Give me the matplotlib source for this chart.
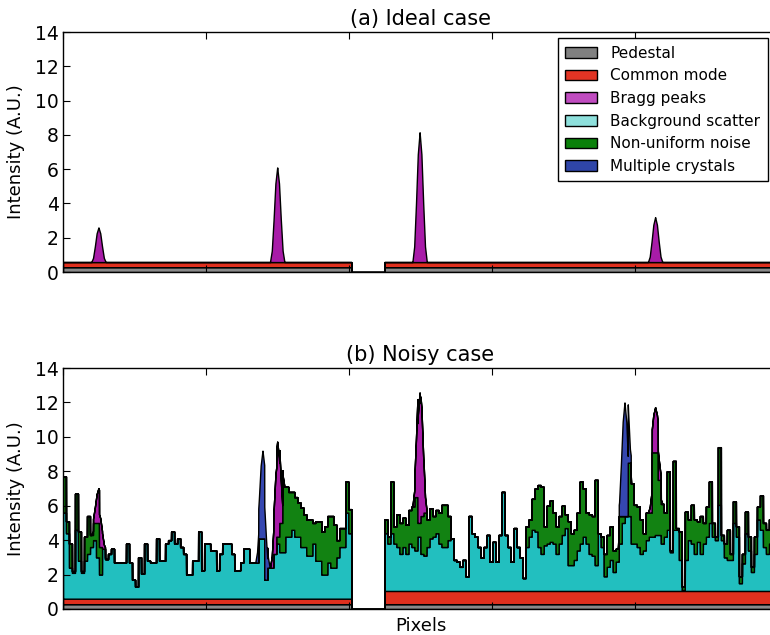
import numpy as np
import matplotlib
matplotlib.use("Agg")
import matplotlib.pyplot as plt
from matplotlib.patches import Patch

# ---------------- data ----------------
labels = ["Pedestal", "Common mode", "Bragg peaks", "Background scatter",
          "Non-uniform noise", "Multiple crystals"]
fill_colors = ["#8a8a8a", "#e0301e", "#a81ca8", "#22bfbf", "#128212", "#3547b0"]
legend_colors = ["#808080", "#e23424", "#c04cc0", "#8ee0dc", "#0a800a", "#2f45a8"]

titles = ["(a) Ideal case", "(b) Noisy case"]
y_label = "Intensity (A.U.)"
x_label = "Pixels"
y_ticks = [0, 2, 4, 6, 8, 10, 12, 14]

# detector geometry (pixel units): two panels separated by a gap
n_units = 238
left_start = 0
right_start = 107

# pedestal and common mode levels [left panel, right panel]
pedestal = [0.28, 0.28]
common_mode_ideal = [0.30, 0.30]
common_mode_noisy = [0.32, 0.77]

# Bragg peaks: centre (pixel), height
bragg_centers = [11.8, 71.3, 118.7, 197.1]
bragg_heights = [2.02, 5.52, 7.57, 2.62]
# Multiple-crystal peaks (noisy case only)
multi_centers = [66.4, 186.9]
multi_heights = [5.1, 6.6]
# peak line shape (offset in pixels, relative height)
peak_offsets = [-2.4, -1.8, -1.2, -0.6, 0.0, 0.6, 1.2, 1.8, 2.4]
peak_shape = [0.0, 0.12, 0.45, 0.83, 1.0, 0.83, 0.45, 0.12, 0.0]

# noisy case: level of top of background scatter, per pixel (left panel)
scatter_top_left = [
    5.6, 4.4, 2.4, 2.1, 4.6, 2.8, 2.1, 2.8, 3.2, 3.6,
    4.0, 3.0, 2.0, 3.5, 2.9, 3.2, 3.5, 2.7, 2.7, 2.7,
    2.7, 3.8, 2.7, 1.7, 1.3, 3.0, 2.05, 3.8, 2.8, 2.7,
    2.7, 4.1, 2.8, 2.8, 3.8, 4.0, 4.5, 3.8, 4.1, 3.6,
    3.2, 2.0, 2.0, 2.8, 2.8, 4.5, 2.25, 3.8, 3.8, 3.4,
    3.4, 2.25, 3.2, 3.8, 3.8, 3.8, 3.2, 2.25, 2.25, 2.7,
    3.5, 3.5, 2.7, 2.7, 2.7, 4.1, 4.1, 1.7, 2.4, 2.4,
    3.2, 3.8, 3.3, 3.3, 4.2, 4.2, 4.6, 4.2, 4.2, 3.6,
    3.6, 3.1, 3.1, 3.8, 2.8, 2.8, 2.0, 2.0, 2.7, 2.4,
    2.4, 3.0, 3.6, 3.6, 5.6, 4.4]
# level of top of non-uniform noise (left panel), first and last stretch;
# the middle stretch has no noise
noise_top_left_a = [7.7, 5.1, 3.8, 2.2, 6.7, 4.5, 2.2, 4.2, 5.4, 4.3,
                    5.0, 5.0, 3.6]
noise_top_left_b = [4.2, 5.0, 7.1, 7.1, 6.8, 6.8, 6.5, 6.2, 5.9, 5.5,
                    5.2, 5.2, 5.0, 5.1, 5.1, 4.5, 4.8, 5.4, 5.4, 4.9,
                    4.0, 4.7, 4.7, 7.4, 5.8]

scatter_top_right = [
    4.4, 3.8, 4.4, 3.8, 3.6, 3.2, 3.6, 3.2, 3.8, 3.6,
    3.4, 4.2, 3.2, 3.1, 3.6, 4.1, 4.2, 4.4, 3.8, 3.6,
    3.6, 4.0, 4.1, 2.85, 2.75, 2.45, 2.85, 1.9, 5.4, 4.4,
    4.2, 3.6, 3.0, 3.6, 4.3, 2.75, 3.9, 2.75, 4.3, 6.8,
    4.3, 3.6, 2.75, 4.7, 3.6, 3.0, 1.8, 3.6, 4.2, 4.6,
    4.5, 3.6, 3.2, 3.7, 3.8, 3.9, 3.8, 3.2, 3.8, 4.3,
    4.7, 2.55, 2.55, 2.85, 3.4, 3.8, 4.2, 3.8, 3.2, 3.1,
    2.55, 4.4, 3.6, 1.9, 2.45, 2.85, 2.15, 2.75, 3.8, 5.0,
    5.4, 5.4, 3.8, 3.8, 3.6, 3.2, 3.4, 4.0, 4.2, 4.2,
    4.3, 4.3, 3.8, 4.2, 4.6, 3.3, 4.6, 4.6, 2.85, 1.1,
    2.85, 4.0, 3.8, 3.2, 3.9, 3.2, 3.8, 4.2, 5.0, 4.2,
    4.0, 6.05, 4.0, 3.0, 2.85, 2.85, 5.0, 4.2, 1.5, 2.65,
    4.4, 3.4, 2.15, 3.2, 5.2, 4.6, 3.6, 3.2, 3.8, 3.4,
    3.9]
noise_top_right = [
    5.2, 4.2, 7.4, 4.8, 5.5, 5.0, 5.3, 4.9, 5.75, 5.95,
    6.5, 5.0, 5.4, 5.6, 5.2, 5.85, 5.4, 5.75, 5.6, 6.05,
    6.05, 5.4, 4.1, 2.85, 2.75, 2.45, 2.85, 1.9, 5.4, 4.4,
    4.2, 3.6, 3.0, 3.6, 4.3, 2.75, 3.9, 2.75, 4.3, 6.8,
    4.3, 3.6, 2.75, 4.7, 3.6, 3.0, 1.8, 4.8, 5.2, 6.4,
    7.0, 7.2, 7.1, 4.8, 6.0, 6.3, 5.6, 4.8, 5.4, 6.0,
    5.5, 5.1, 4.4, 4.6, 5.6, 7.4, 7.0, 5.6, 5.5, 5.4,
    7.5, 4.4, 4.2, 3.2, 4.3, 4.8, 3.4, 3.5, 5.4, 5.4,
    5.4, 8.5, 7.3, 6.05, 5.95, 5.2, 4.4, 5.6, 5.6, 9.1,
    9.1, 7.5, 6.1, 5.6, 8.0, 3.4, 8.6, 4.7, 4.5, 1.3,
    5.65, 5.2, 6.05, 5.2, 5.1, 5.4, 5.0, 5.95, 7.4, 5.0,
    4.2, 9.4, 4.3, 3.8, 4.6, 3.2, 6.25, 4.8, 1.9, 3.2,
    5.65, 4.2, 2.45, 4.2, 5.95, 6.6, 5.0, 4.6, 5.2, 4.8,
    5.5]

left_len = len(scatter_top_left)
right_len = len(scatter_top_right)

# ---------------- build drawing arrays ----------------
x = np.linspace(0, n_units, n_units * 40 + 1)
idx = np.clip(np.floor(x).astype(int), 0, n_units - 1)


def per_pixel(left_vals, right_vals):
    arr = np.zeros(n_units)
    arr[left_start:left_start + left_len] = left_vals
    arr[right_start:right_start + right_len] = right_vals
    return arr[idx]


on_detector = per_pixel(np.ones(left_len), np.ones(right_len))


def peaks(centers, heights):
    total = np.zeros_like(x)
    for c, h in zip(centers, heights):
        total += h * np.interp(x - c, peak_offsets, peak_shape)
    return total * on_detector


noise_top_left = (noise_top_left_a
                  + scatter_top_left[len(noise_top_left_a):left_len - len(noise_top_left_b)]
                  + noise_top_left_b)

ped = per_pixel(np.full(left_len, pedestal[0]), np.full(right_len, pedestal[1]))
cm_ideal = per_pixel(np.full(left_len, common_mode_ideal[0]),
                     np.full(right_len, common_mode_ideal[1]))
cm_noisy = per_pixel(np.full(left_len, common_mode_noisy[0]),
                     np.full(right_len, common_mode_noisy[1]))
bragg = peaks(bragg_centers, bragg_heights)
multi = peaks(multi_centers, multi_heights)
scatter_lvl = per_pixel(scatter_top_left, scatter_top_right)
noise_lvl = per_pixel(noise_top_left, noise_top_right)

# ---------------- figure ----------------
fig = plt.figure(figsize=(7.7, 6.35), dpi=100)
W, H = 770.0, 635.0
ax1 = fig.add_axes([63 / W, 1 - 272 / H, 715 / W, 240 / H])
ax2 = fig.add_axes([63 / W, 1 - 609 / H, 715 / W, 241 / H])

lw = 1.0
# ideal case
l0 = np.zeros_like(x)
l1 = ped
l2 = ped + cm_ideal
l3 = l2 + bragg
for lo, hi, col in [(l0, l1, fill_colors[0]), (l1, l2, fill_colors[1]),
                    (l2, l3, fill_colors[2])]:
    ax1.fill_between(x, lo, hi, facecolor=col, edgecolor="k", linewidth=lw)

# noisy case
n1 = ped
n2 = ped + cm_noisy
n3 = np.maximum(scatter_lvl, n2)
n4 = np.maximum(noise_lvl, n3)
n5 = n4 + bragg
n6 = n5 + multi
for lo, hi, col in [(l0, n1, fill_colors[0]), (n1, n2, fill_colors[1]),
                    (n2, n3, fill_colors[3]), (n3, n4, fill_colors[4]),
                    (n4, n5, fill_colors[2]), (n5, n6, fill_colors[5])]:
    ax2.fill_between(x, lo, hi, facecolor=col, edgecolor="k", linewidth=lw)

for ax, title in zip([ax1, ax2], titles):
    ax.set_xlim(0, n_units)
    ax.set_ylim(0, 14)
    ax.set_yticks(y_ticks)
    ax.set_xticks(np.linspace(0, n_units, 6))
    ax.set_xticklabels([])
    ax.tick_params(direction="in", top=True, right=True, length=5, width=0.8,
                   labelsize=13.5, pad=3)
    for s in ax.spines.values():
        s.set_linewidth(1.0)
    ax.set_title(title, fontsize=15, pad=5)
    ax.set_ylabel(y_label, fontsize=13)
    ax.yaxis.set_label_coords(-0.053, 0.5)

ax2.set_xlabel(x_label, fontsize=13)
ax2.xaxis.set_label_coords(0.5, -0.033)

handles = [Patch(facecolor=c, edgecolor="k", linewidth=1.0) for c in legend_colors]
leg = ax1.legend(handles, labels, loc="upper right",
                 bbox_to_anchor=(768 / W, 1 - 38 / H),
                 bbox_transform=fig.transFigure, borderaxespad=0,
                 fontsize=11, fancybox=False, framealpha=1, edgecolor="k",
                 handlelength=2.1, handleheight=0.7, handletextpad=0.85,
                 labelspacing=0.5, borderpad=0.5)
leg.get_frame().set_linewidth(1.0)

fig.savefig("out.png", dpi=100)
